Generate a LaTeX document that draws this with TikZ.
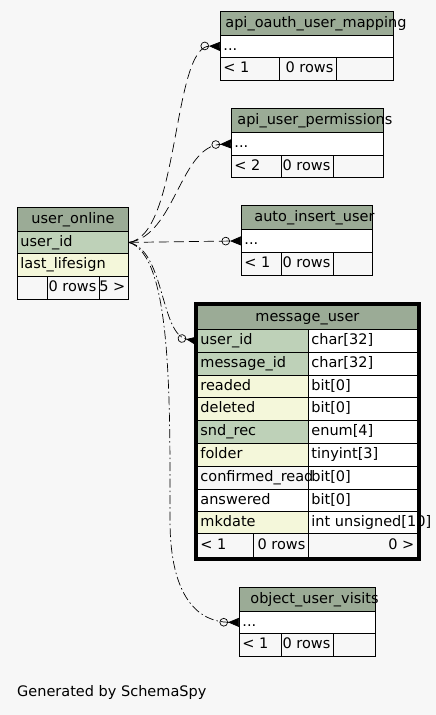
\documentclass[tikz,border=0pt]{standalone}
\usepackage{fontspec}
\setmainfont{DejaVu Sans}
\usepackage{tikz}
\usetikzlibrary{arrows.meta,fit}

\definecolor{headc}{HTML}{9BAB96}
\definecolor{keyc}{HTML}{BED1B8}
\definecolor{idxc}{HTML}{F4F7DA}
\definecolor{bgc}{HTML}{F7F7F7}

% cell text in a box of the cell width (less inner sep)
\newcommand{\cellbox}[3][l]{\makebox[\dimexpr#2pt-6pt\relax][#1]{#3}}

\tikzset{
    cell/.style={draw, line width=0.8pt, anchor=north west, inner xsep=3pt, inner ysep=0pt,
        minimum height=23pt, text height=10.5pt, text depth=3pt},
    headcell/.style={cell, fill=headc, minimum height=24pt},
    keycell/.style={cell, fill=keyc},
    idxcell/.style={cell, fill=idxc},
    plaincell/.style={cell, fill=white},
    crowfoot/.style={-{Circle[open,length=8.5pt,width=8.5pt] Triangle[reversed,length=11pt,width=9pt]}},
    fk/.style={crowfoot, line width=0.7pt, dash pattern=on 10pt off 5pt},
    fkdot/.style={crowfoot, line width=0.7pt, dash pattern=on 9pt off 3pt on 1.5pt off 3pt}
}

\begin{document}
\begin{tikzpicture}[x=1pt, y=-1pt, font=\fontsize{14.5pt}{17pt}\selectfont]

    % Background
    \fill[bgc] (0,0) rectangle (436,715);
    \useasboundingbox (0,0) rectangle (436,715);

    % api_oauth_user_mapping
    \node[headcell] (aoum_head) at (220,11) {\cellbox{173}{\hspace*{2pt}api\_oauth\_user\_mapping}};
    \node[plaincell, minimum height=22pt] (aoum_row) at (220,35) {\cellbox{173}{...}};
    \node[cell] (aoum_f1) at (220,57) {\cellbox{59}{< 1}};
    \node[cell] (aoum_f2) at (279,57) {\cellbox[r]{57}{0 rows}};
    \node[cell] (aoum_f3) at (336,57) {\cellbox{57}{}};

    % api_user_permissions
    \node[headcell] (aup_head) at (231,108) {\cellbox{152}{\hspace*{3pt}api\_user\_permissions}};
    \node[plaincell] (aup_row) at (231,132) {\cellbox{152}{...}};
    \node[cell, minimum height=22pt] (aup_f1) at (231,155) {\cellbox{50}{< 2}};
    \node[cell, minimum height=22pt] (aup_f2) at (281,155) {\cellbox[r]{52}{0 rows}};
    \node[cell, minimum height=22pt] (aup_f3) at (333,155) {\cellbox{50}{}};

    % user_online
    \node[headcell] (uo_head) at (17,207) {\cellbox[c]{111}{user\_online}};
    \node[keycell, minimum height=22pt] (uo_user_id) at (17,231) {\cellbox{111}{user\_id}};
    \node[idxcell] (uo_lastsign) at (17,253) {\cellbox{111}{last\_lifesign}};
    \node[cell] (uo_f1) at (17,276) {\cellbox{30}{}};
    \node[cell] (uo_f2) at (47,276) {\cellbox[r]{52}{0 rows}};
    \node[cell] (uo_f3) at (99,276) {\cellbox[r]{29}{5 >}};

    % auto_insert_user
    \node[headcell] (aiu_head) at (241,205) {\cellbox{131}{\hspace*{10pt}auto\_insert\_user}};
    \node[plaincell] (aiu_row) at (241,229) {\cellbox{131}{...}};
    \node[cell] (aiu_f1) at (241,252) {\cellbox{40}{< 1}};
    \node[cell] (aiu_f2) at (281,252) {\cellbox[r]{52}{0 rows}};
    \node[cell] (aiu_f3) at (333,252) {\cellbox{39}{}};

    % message_user: types first, names drawn over them
    \node[headcell] (mu_head) at (197,305) {\cellbox[c]{220}{message\_user}};
    \node[plaincell] (mu_t1) at (308,329) {\cellbox{109}{char[32]}};
    \node[plaincell] (mu_t2) at (308,352) {\cellbox{109}{char[32]}};
    \node[plaincell, minimum height=22pt] (mu_t3) at (308,375) {\cellbox{109}{bit[0]}};
    \node[plaincell] (mu_t4) at (308,397) {\cellbox{109}{bit[0]}};
    \node[plaincell] (mu_t5) at (308,420) {\cellbox{109}{enum[4]}};
    \node[plaincell] (mu_t6) at (308,443) {\cellbox{109}{tinyint[3]}};
    \node[plaincell] (mu_t7) at (308,466) {\cellbox{109}{bit[0]}};
    \node[plaincell, minimum height=22pt] (mu_t8) at (308,489) {\cellbox{109}{bit[0]}};
    \node[plaincell, minimum height=22pt] (mu_t9) at (308,511) {\cellbox{109}{int unsigned[10]}};
    \node[keycell] (mu_user_id) at (197,329) {\cellbox{111}{user\_id}};
    \node[keycell] (mu_message_id) at (197,352) {\cellbox{111}{message\_id}};
    \node[idxcell, minimum height=22pt] (mu_readed) at (197,375) {\cellbox{111}{readed}};
    \node[idxcell] (mu_deleted) at (197,397) {\cellbox{111}{deleted}};
    \node[keycell] (mu_snd_rec) at (197,420) {\cellbox{111}{snd\_rec}};
    \node[idxcell] (mu_folder) at (197,443) {\cellbox{111}{folder}};
    \node[cell] (mu_confirmed) at (197,466) {\cellbox{111}{confirmed\_read}};
    \node[plaincell, minimum height=22pt] (mu_answered) at (197,489) {\cellbox{111}{answered}};
    \node[idxcell, minimum height=22pt] (mu_mkdate) at (197,511) {\cellbox{111}{mkdate}};
    \node[cell, minimum height=24pt] (mu_f1) at (197,533) {\cellbox{56}{< 1}};
    \node[cell, minimum height=24pt] (mu_f2) at (253,533) {\cellbox[r]{55}{0 rows}};
    \node[cell, minimum height=24pt] (mu_f3) at (308,533) {\cellbox[r]{109}{0 >}};
    \node[draw, line width=3pt, inner sep=1.5pt, fit=(mu_head)(mu_f3)] (mu_frame) {};

    % object_user_visits
    \node[headcell] (ouv_head) at (239,587) {\cellbox{136}{\hspace*{8pt}object\_user\_visits}};
    \node[plaincell, minimum height=22pt] (ouv_row) at (239,611) {\cellbox{136}{...}};
    \node[cell] (ouv_f1) at (239,633) {\cellbox{42}{< 1}};
    \node[cell] (ouv_f2) at (281,633) {\cellbox[r]{52}{0 rows}};
    \node[cell] (ouv_f3) at (333,633) {\cellbox{42}{}};

    % Foreign keys
    \draw[fk] (uo_user_id.east) .. controls (180,236) and (172,45) .. (aoum_row.west);
    \draw[fk] (uo_user_id.east) .. controls (175,236) and (180,146) .. (aup_row.west);
    \draw[fk] (uo_user_id.east) -- (aiu_row.west);
    \draw[fkdot] (uo_user_id.east) .. controls (165,250) and (160,335) .. (mu_user_id.west);
    \draw[fkdot] (uo_user_id.east) .. controls (172,255) and (170,400) .. (170,520)
        .. controls (170,600) and (200,622) .. (ouv_row.west);

    % Caption
    \node[anchor=base west, inner sep=0pt] (caption) at (17,696.5) {Generated by SchemaSpy};

\end{tikzpicture}
\end{document}
